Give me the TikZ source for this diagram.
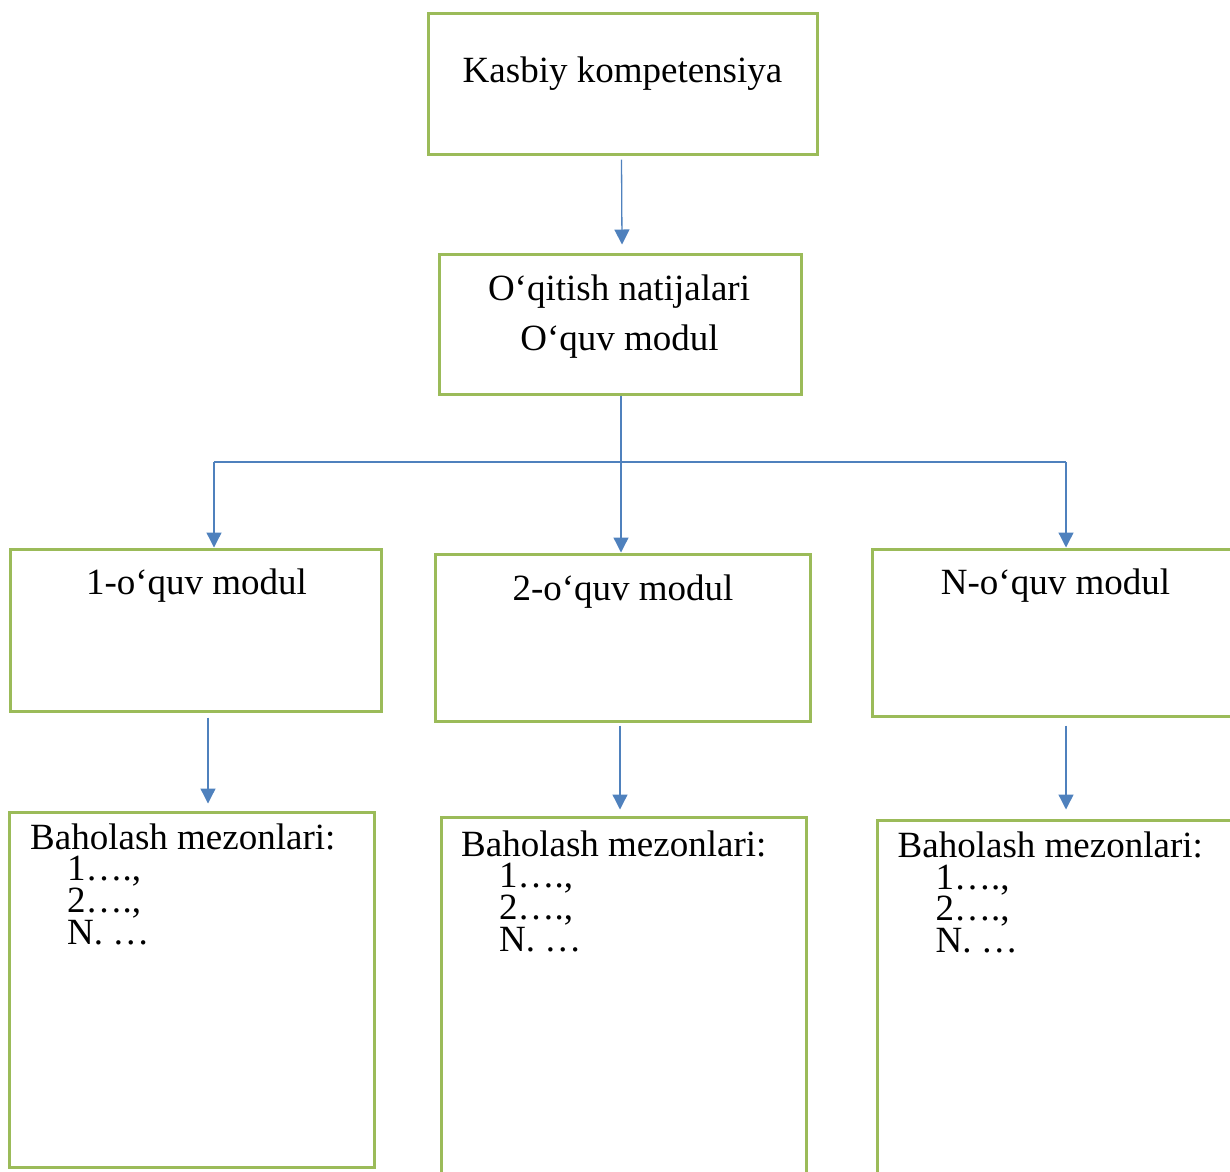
\documentclass[tikz,border=0pt]{standalone}
\usepackage{fontspec}
\setmainfont{Liberation Serif}
\usetikzlibrary{arrows.meta}
\definecolor{boxgreen}{RGB}{155,187,89}
\definecolor{arrblue}{RGB}{79,129,189}
\tikzset{
  box/.style={draw=boxgreen, line width=3pt, rectangle, inner sep=0pt, fill=none},
  arr/.style={draw=arrblue, line width=1.3pt, -{Triangle[length=15pt,width=15pt]}},
  ln/.style={draw=arrblue, line width=1.3pt},
  txt/.style={anchor=base, inner sep=0pt, font=\fontsize{37}{32}\selectfont},
  ltxt/.style={anchor=base west, inner sep=0pt, text height=24pt, text depth=6pt, font=\fontsize{37}{32}\selectfont}
}
\begin{document}
\begin{tikzpicture}[x=1pt,y=-1pt]
\useasboundingbox (0,0) rectangle (1230,1171);
\clip (0,0) rectangle (1230,1171);
% boxes
\node[box, minimum width=389pt, minimum height=141pt] (k) at (622.5,83.5) {};
\node[box, minimum width=362pt, minimum height=140pt] (m) at (620,324) {};
\node[box, minimum width=371pt, minimum height=162pt] (o1) at (195.5,630) {};
\node[box, minimum width=375pt, minimum height=167pt] (o2) at (622.5,637.5) {};
\node[box, minimum width=368pt, minimum height=167pt] (o3) at (1056,632.5) {};
\node[box, minimum width=365pt, minimum height=355pt] (b1) at (191.5,989.5) {};
\node[box, minimum width=365pt, minimum height=368pt] (b2) at (623.5,1001) {};
\node[box, minimum width=363pt, minimum height=365pt] (b3) at (1058.5,1002.5) {};
% texts
\node[txt] (tk) at (622.5,82) {Kasbiy kompetensiya};
\node[txt] (tm1) at (619,300) {O‘qitish natijalari};
\node[txt] (tm2) at (619.5,350) {O‘quv modul};
\node[txt] (to1) at (196.5,594) {1-o‘quv modul};
\node[txt] (to2) at (623,600) {2-o‘quv modul};
\node[txt] (to3) at (1055.5,594) {N-o‘quv modul};
% criteria 1
\node[ltxt] (b1h) at (30,849) {Baholash mezonlari:};
\node[ltxt] (b1a) at (67,880.5) {1….,};
\node[ltxt] (b1b) at (67,912) {2….,};
\node[ltxt] (b1c) at (67,944) {N. …};
% criteria 2
\node[ltxt] (b2h) at (461,856) {Baholash mezonlari:};
\node[ltxt] (b2a) at (499,887.5) {1….,};
\node[ltxt] (b2b) at (499,919) {2….,};
\node[ltxt] (b2c) at (499,951) {N. …};
% criteria 3
\node[ltxt] (b3h) at (897.5,857.5) {Baholash mezonlari:};
\node[ltxt] (b3a) at (935.5,889) {1….,};
\node[ltxt] (b3b) at (935.5,920.5) {2….,};
\node[ltxt] (b3c) at (935.5,952.5) {N. …};
% connectors
\coordinate (hl) at (214,462);
\coordinate (hr) at (1066,462);
\draw[arr] ([xshift=-1pt,yshift=-4pt]k.south) -- ([xshift=2pt,yshift=8pt]m.north);
\draw[arr] ([xshift=1pt]m.south) -- ([xshift=-1.5pt]o2.north);
\draw[ln] (hl) -- (hr);
\draw[arr] (hl) -- (hl |- o1.north);
\draw[arr] (hr) -- (hr |- o3.north);
\draw[arr] ([xshift=12.5pt,yshift=-5pt]o1.south) -- ([xshift=16.5pt,yshift=7pt]b1.north);
\draw[arr] ([xshift=-2.5pt,yshift=-3pt]o2.south) -- ([xshift=-3.5pt,yshift=6pt]b2.north);
\draw[arr] ([xshift=10pt,yshift=-8pt]o3.south) -- ([xshift=7.5pt,yshift=9pt]b3.north);
\end{tikzpicture}
\end{document}
